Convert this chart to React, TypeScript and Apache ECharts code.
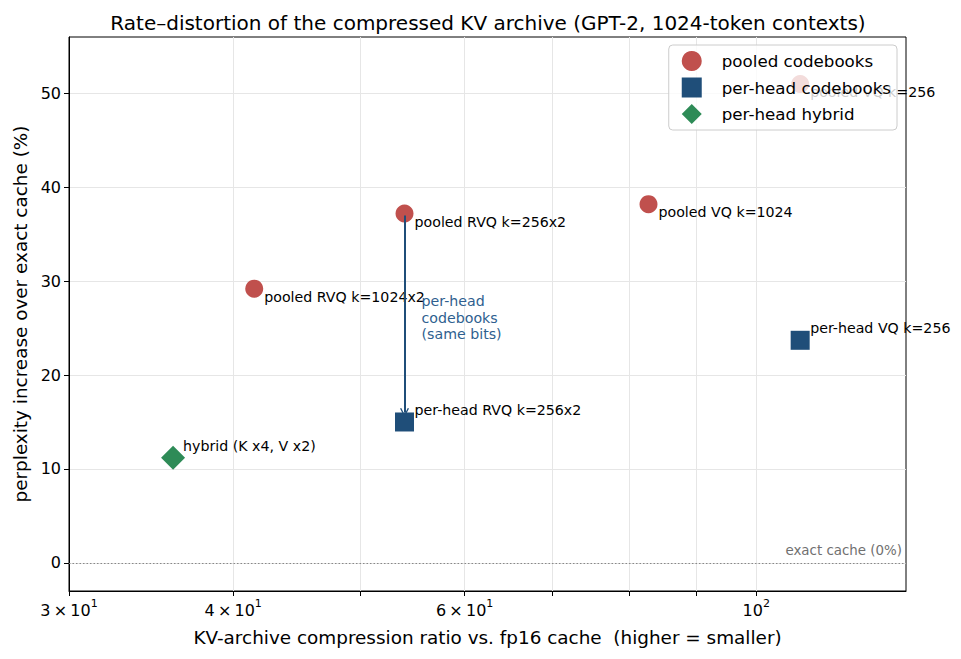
import React, { useEffect, useRef } from "react";
import * as echarts from "echarts";

const pooledNames = ["pooled RVQ k=1024x2", "pooled RVQ k=256x2", "pooled VQ k=1024", "pooled VQ k=256"];
const pooledRatio = [41.5, 54.0, 82.8, 108.0];
const pooledPpl = [29.2, 37.2, 38.2, 51.0];

const perHeadNames = ["per-head RVQ k=256x2", "per-head VQ k=256"];
const perHeadRatio = [54.0, 108.0];
const perHeadPpl = [15.0, 23.7];

const hybridNames = ["hybrid (K x4, V x2)"];
const hybridRatio = [36.0];
const hybridPpl = [11.2];

const xTickValues = [30, 40, 50, 60, 70, 80, 90, 100];
const xLabelValues = [30, 40, 60, 100];
const yTickValues = [0, 10, 20, 30, 40, 50];

const X_MIN = 30;
const X_MAX = 130;
const Y_MIN = -3;
const Y_MAX = 56;

const FONT = "DejaVu Sans";
const RED = "#c0504d";
const BLUE = "#1f4e79";
const GREEN = "#2e8b57";

const lg = (v: number) => Math.log10(v);

function xLabel(v: number): string {
  const x = Math.round(Math.pow(10, v));
  const exp = Math.floor(Math.log10(x) + 1e-9);
  const mant = Math.round(x / Math.pow(10, exp));
  if (mant === 1) return `{m|10}{s|${exp}}`;
  return `{m|${mant}\u2009\u00d7\u200910}{s|${exp}}`;
}

const CHEVRON = "path://M0,10 L5,0 L10,10 L8.6,10.6 L5,3.2 L1.4,10.6 Z";

export default function App() {
  const ref = useRef<HTMLDivElement>(null);
  useEffect(() => {
    if (!ref.current) return;
    const chart = echarts.init(ref.current, undefined, { renderer: "svg" });
    const mk = (names: string[], xs: number[], ys: number[]) =>
      names.map((n, i) => ({ value: [lg(xs[i]), ys[i]], name: n }));

    const labelBase = {
      show: true,
      position: "inside" as const,
      align: "left" as const,
      verticalAlign: "middle" as const,
      formatter: (p: any) => p.name,
      color: "#000",
      fontFamily: FONT,
      fontSize: 14.2,
    };

    const option: any = {
      animation: false,
      textStyle: { fontFamily: FONT },
      title: {
        text: "Rate\u2013distortion of the compressed KV archive (GPT-2, 1024-token contexts)",
        left: 483,
        textAlign: "center",
        top: 8,
        textStyle: { fontFamily: FONT, fontSize: 20, fontWeight: "normal", color: "#000" },
      },
      grid: {
        left: 69,
        right: 55,
        top: 37,
        bottom: 68,
        show: true,
        borderColor: "#000",
        borderWidth: 1,
        outerBoundsMode: "none",
      },
      legend: {
        orient: "vertical",
        right: 64,
        top: 45,
        padding: [6, 6, 6, 13],
        itemWidth: 20,
        itemHeight: 20,
        itemGap: 6.5,
        symbolKeepAspect: true,
        backgroundColor: "rgba(255,255,255,0.8)",
        borderColor: "#cccccc",
        borderWidth: 1,
        borderRadius: 4,
        textStyle: { fontFamily: FONT, fontSize: 16.7, color: "#000", padding: [0, 0, 0, 15] },
        data: ["pooled codebooks", "per-head codebooks", "per-head hybrid"],
      },
      xAxis: {
        type: "value",
        min: lg(X_MIN),
        max: lg(X_MAX),
        name: "KV-archive compression ratio vs. fp16 cache  (higher = smaller)",
        nameLocation: "middle",
        nameGap: 37,
        nameTextStyle: { fontFamily: FONT, fontSize: 18.4, color: "#000" },
        axisLine: { show: true, onZero: false, lineStyle: { color: "#000", width: 1 } },
        axisTick: {
          show: true,
          inside: false,
          length: 5,
          lineStyle: { color: "#000" },
          customValues: xTickValues.map(lg),
        },
        axisLabel: {
          show: true,
          margin: 7,
          customValues: xLabelValues.map(lg),
          formatter: (v: number) => xLabel(v),
          rich: {
            m: { fontFamily: FONT, fontSize: 16, color: "#000", verticalAlign: "bottom" },
            s: { fontFamily: FONT, fontSize: 11, color: "#000", verticalAlign: "top", padding: [0, 0, 9, 0] },
          },
        },
        splitLine: {
          show: true,
          lineStyle: { color: "#e6e6e6", width: 1 },
          customValues: xTickValues.map(lg),
        },
      },
      yAxis: {
        type: "value",
        min: Y_MIN,
        max: Y_MAX,
        name: "perplexity increase over exact cache (%)",
        nameLocation: "middle",
        nameGap: 40,
        nameTextStyle: { fontFamily: FONT, fontSize: 18.4, color: "#000" },
        axisLine: { show: true, onZero: false, lineStyle: { color: "#000", width: 1 } },
        axisTick: {
          show: true,
          length: 5,
          lineStyle: { color: "#000" },
          customValues: yTickValues,
        },
        axisLabel: {
          show: true,
          margin: 8,
          customValues: yTickValues,
          fontFamily: FONT,
          fontSize: 16,
          color: "#000",
        },
        splitLine: {
          show: true,
          lineStyle: { color: "#e6e6e6", width: 1 },
          customValues: yTickValues,
        },
      },
      series: [
        {
          name: "pooled codebooks",
          type: "scatter",
          symbol: "circle",
          symbolSize: 18,
          itemStyle: { color: RED, opacity: 1 },
          data: mk(pooledNames, pooledRatio, pooledPpl),
          label: { ...labelBase, offset: [10, 8] },
          z: 3,
          markLine: {
            silent: true,
            symbol: ["none", "none"],
            lineStyle: { color: "#888", type: [1.5, 2], width: 1 },
            label: {
              show: true,
              position: "insideEndTop",
              formatter: "exact cache (0%)",
              color: "#707070",
              fontFamily: FONT,
              fontSize: 13.4,
              distance: [4, 6],
            },
            data: [{ yAxis: 0 }],
          },
        },
        {
          name: "per-head codebooks",
          type: "scatter",
          symbol: "rect",
          symbolSize: 19,
          itemStyle: { color: BLUE, opacity: 1 },
          data: mk(perHeadNames, perHeadRatio, perHeadPpl),
          label: { ...labelBase, offset: [10, -12] },
          z: 3,
          markLine: {
            silent: true,
            symbol: ["none", CHEVRON],
            symbolSize: [9, 9],
            symbolOffset: [0, 0],
            lineStyle: { color: BLUE, type: "solid", width: 2, opacity: 1 },
            label: { show: false },
            data: [
              [
                { coord: [lg(pooledRatio[1]), pooledPpl[1] - 0.2] },
                { coord: [lg(perHeadRatio[0]), perHeadPpl[0] + 1.0] },
              ],
            ],
          },
          markPoint: {
            silent: true,
            symbol: "circle",
            symbolSize: 0,
            label: {
              show: true,
              position: "inside",
              align: "left",
              verticalAlign: "middle",
              offset: [17, 0],
              formatter: "per-head\ncodebooks\n(same bits)",
              color: "#2f5f8f",
              fontFamily: FONT,
              fontSize: 14.2,
              lineHeight: 16.5,
            },
            data: [
              { coord: [lg(perHeadRatio[0]), (pooledPpl[1] + perHeadPpl[0]) / 2] },
            ],
          },
        },
        {
          name: "per-head hybrid",
          type: "scatter",
          symbol: "diamond",
          symbolSize: 24,
          itemStyle: { color: GREEN, opacity: 1 },
          data: mk(hybridNames, hybridRatio, hybridPpl),
          label: { ...labelBase, offset: [10, -12] },
          z: 3,
        },
      ],
    };
    chart.setOption(option);
    return () => chart.dispose();
  }, []);
  return (
    <div
      ref={ref}
      style={{ position: "fixed", left: 0, top: 0, width: 961, height: 659, background: "#fff" }}
    />
  );
}
